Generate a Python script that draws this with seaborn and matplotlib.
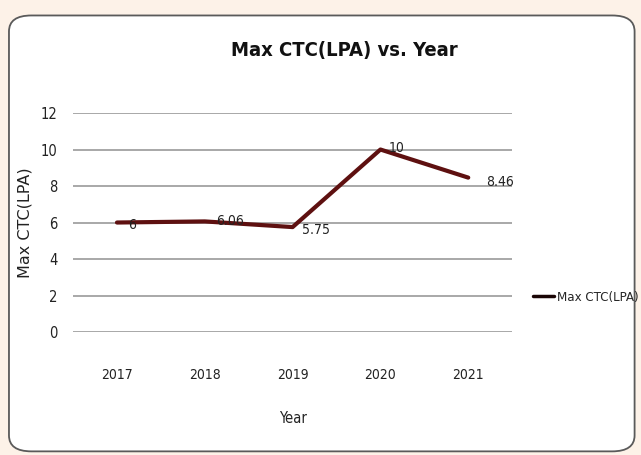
import seaborn as sns
import matplotlib.pyplot as plt
import pandas as pd
from matplotlib.patches import FancyBboxPatch

# data
years = ['2017', '2018', '2019', '2020', '2021']
max_ctc = [6, 6.06, 5.75, 10, 8.46]
value_labels = ['6', '6.06', '5.75', '10', '8.46']
# label offsets in points (dx, dy) relative to each point
label_offsets = [(11, -2), (18, 0), (16.5, -2), (12, 1), (23, -3)]

df = pd.DataFrame({'Year': years, 'Max CTC(LPA)': max_ctc})

sns.set_style("white")
plt.rcParams['font.family'] = ['DejaVu Sans']
plt.rcParams['font.stretch'] = 'condensed'

fig = plt.figure(figsize=(6.41, 4.55), dpi=100, facecolor='#fdf2e8')

# white card with rounded corners
card = FancyBboxPatch((0.014, 0.008), 0.976, 0.958,
                      boxstyle="round,pad=0,rounding_size=0.035",
                      transform=fig.transFigure, facecolor='white',
                      edgecolor='#5a5a5a', linewidth=1.3, zorder=-5)
fig.patches.append(card)

ax = fig.add_axes([0.114, 0.2703, 0.685, 0.4813])
ax.set_zorder(2)
ax.set_facecolor('none')

sns.lineplot(data=df, x='Year', y='Max CTC(LPA)', sort=False, color='#5e1010',
             linewidth=3.0, ax=ax, label='Max CTC(LPA)', zorder=3)

ax.set_xlim(-0.5, len(years) - 0.5)
ax.set_ylim(0, 12)
ax.set_yticks(range(0, 13, 2))
ax.yaxis.grid(True, color='#a8a8a8', linewidth=1.4)
ax.xaxis.grid(False)
for s in ax.spines.values():
    s.set_visible(False)
ax.tick_params(axis='x', length=0, pad=26, labelsize=10, colors='#222222')
ax.tick_params(axis='y', length=0, pad=11, labelsize=10.5, colors='#222222')

for i, (v, t) in enumerate(zip(max_ctc, value_labels)):
    ax.annotate(t, (i, v), xytext=label_offsets[i], textcoords='offset points',
                ha='center', va='center', fontsize=10, color='#222222', zorder=4)

ax.set_xlabel('Year', fontsize=10.5, labelpad=21, color='#222222')
ax.set_ylabel('Max CTC(LPA)', fontsize=11.5, labelpad=6, color='#222222',
              fontstretch='normal')

fig.suptitle('Max CTC(LPA) vs. Year', x=0.538, y=0.91, fontsize=14.5,
             fontweight='bold', color='#111111')

leg = ax.legend(loc='center left', bbox_to_anchor=(0.832, 0.347),
                bbox_transform=fig.transFigure, frameon=False, fontsize=9.5,
                handlelength=1.6, handletextpad=0.2, borderpad=0,
                borderaxespad=0)
for line in leg.get_lines():
    line.set_color('#1a0505')
    line.set_linewidth(2.5)

fig.savefig('out.png', dpi=100, facecolor=fig.get_facecolor())
